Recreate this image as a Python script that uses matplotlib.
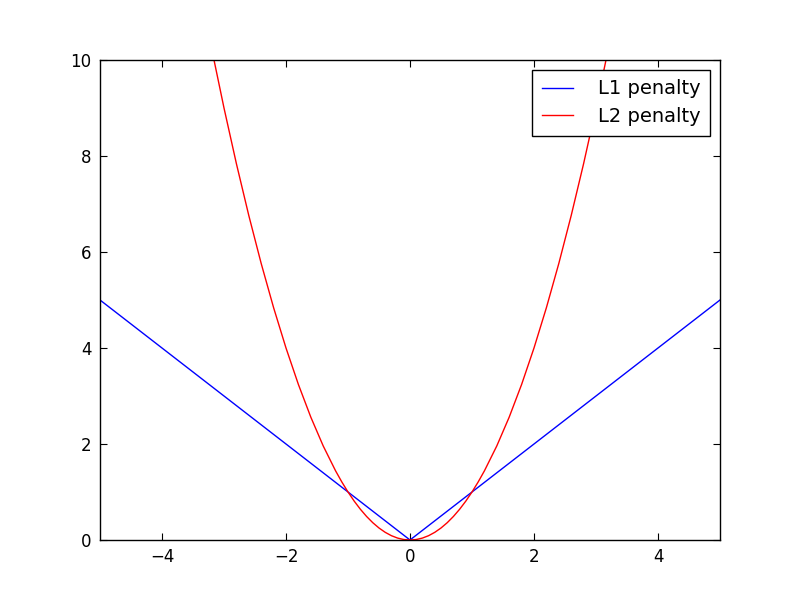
import matplotlib
matplotlib.use("Agg")
import matplotlib.pyplot as plt

# L1 penalty (piecewise straight)
l1_x = [-5.0, 0.0, 5.0]
l1_y = [5.0, 0.0, 5.0]

# L2 penalty, points (denser near the bottom)
l2_x = [-3.4, -3.2, -3.0, -2.8, -2.6, -2.4, -2.2, -2.0, -1.8, -1.6, -1.4, -1.2,
        -1.1, -1.0, -0.9, -0.8, -0.7, -0.6, -0.5, -0.4, -0.3, -0.2, -0.1, 0.0,
        0.1, 0.2, 0.3, 0.4, 0.5, 0.6, 0.7, 0.8, 0.9, 1.0, 1.1, 1.2,
        1.4, 1.6, 1.8, 2.0, 2.2, 2.4, 2.6, 2.8, 3.0, 3.2, 3.4]
l2_y = [11.56, 10.24, 9.0, 7.84, 6.76, 5.76, 4.84, 4.0, 3.24, 2.56, 1.96, 1.44,
        1.21, 1.0, 0.81, 0.64, 0.49, 0.36, 0.25, 0.16, 0.09, 0.04, 0.01, 0.0,
        0.01, 0.04, 0.09, 0.16, 0.25, 0.36, 0.49, 0.64, 0.81, 1.0, 1.21, 1.44,
        1.96, 2.56, 3.24, 4.0, 4.84, 5.76, 6.76, 7.84, 9.0, 10.24, 11.56]

fig = plt.figure(figsize=(8, 6), dpi=100)
ax = fig.add_axes([0.125, 0.1, 0.775, 0.8])

ax.plot(l1_x, l1_y, color="b", lw=1.0, label="L1 penalty")
ax.plot(l2_x, l2_y, color="r", lw=1.0, label="L2 penalty")

ax.set_xlim(-5, 5)
ax.set_ylim(0, 10)
ax.set_xticks([-4, -2, 0, 2, 4])
ax.set_yticks([0, 2, 4, 6, 8, 10])
ax.tick_params(direction="in", top=True, right=True, labelsize=12, length=5, pad=6)
for s in ax.spines.values():
    s.set_linewidth(1.0)

leg = ax.legend(loc="upper right", fontsize=14, fancybox=False, framealpha=1,
                edgecolor="black", borderaxespad=0.5, borderpad=0.5,
                labelspacing=0.45, handlelength=1.6, handletextpad=1.3)
leg.get_frame().set_linewidth(1.0)

fig.savefig("out.png", dpi=100)
